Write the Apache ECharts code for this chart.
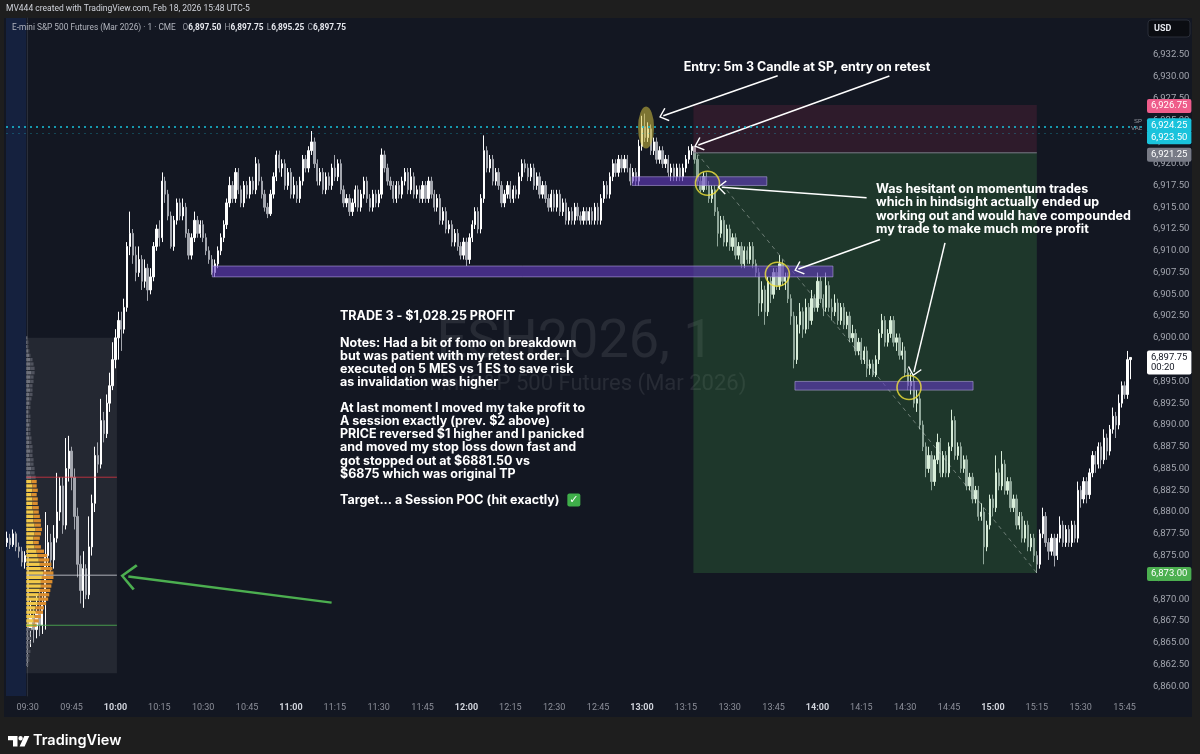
<!DOCTYPE html>
<html><head><meta charset="utf-8">
<script src="https://cdn.jsdelivr.net/npm/echarts@6/dist/echarts.min.js"></script>
<style>html,body{margin:0;padding:0;background:#1e1e1e}#c{width:1200px;height:754px}</style>
</head><body><div id="c"></div>
<script>
// ---------- DATA (ES 1-minute candles, minutes relative to 09:30) ----------
const firstMinute = -7;          // 09:23
const firstOpen = 6876.5;
const closes = [
6877,6876.25,6877.5,6876,6875.5,6874.25,6875,
6866.5,6868,6866.5,6868.5,6867,6869.5,6875,6876.5,6874.5,6877,
6880,6883,6878.5,6885,6887,6884,6879.5,6874,6871,6873.5,
6870.5,6876,6881,6886.5,6885.5,6890.5,6889,6892.5,6894.5,6897.5,
6900,6902,6901,6903.5,6910.5,6912,6909.5,6907.5,6909,6906.5,
6908,6905.5,6907,6910.5,6912.5,6911.5,6918,6916.5,6914,6910.5,
6913.5,6915.5,6914,6915,6912,6909.5,6911.5,6913.5,6912,6913,
6911.5,6910,6909,6907.5,6908.5,6910,6911.5,6913,6915.5,6917.5,
6916,6919,6917,6915.5,6917.5,6916.5,6918,6917,6920,6918,
6916.5,6915,6914.25,6916.5,6918.5,6921,6919.5,6920,6917.5,6919,
6916.5,6917.5,6916,6918,6920.5,6919.5,6921.5,6922.5,6920,6918,
6919,6917,6918.5,6917.5,6919.5,6918.5,6920,6917,6915.5,6916,
6914.5,6915.5,6917,6915,6916.5,6918,6916,6915,6916.5,6915.5,
6916.5,6921,6919.5,6918,6917.5,6916,6917.5,6916.5,6918,6919,
6917,6918.5,6916.5,6917,6916,6917.5,6916,6918,6916.5,6915,
6916,6913.5,6914.5,6912.5,6913,6911,6912,6910.5,6909.5,6911,
6909,6911.5,6913,6914.5,6912.5,6916,6921.5,6919.5,6920.5,6918,
6919,6917.5,6915.5,6916.5,6917.5,6916,6917,6916.5,6918.5,6920,
6919.5,6918.5,6919.5,6917.5,6918.5,6916.5,6917.5,6916,6915,6916.5,
6915,6916.5,6914.5,6915.5,6913.5,6914.5,6913.5,6915,6914,6913.5,
6914.5,6913.5,6914.5,6913.5,6915,6913.5,6916,6917.5,6916.5,6918.5,
6920,6919,6920.5,6919.5,6920.5,6919.5,6918,6919,6918,6922,
6924.25,6923,6924,6921.5,6922.5,6920.5,6921.5,6920,6920.5,6919,
6919.5,6918.5,6919.5,6918.5,6919.5,6920.5,6921.5,6922,6920.5,6918,
6917,6918.5,6917.5,6916,6917,6914.5,6912,6913.5,6911,6912.5,
6910.5,6911.5,6909.5,6910.5,6908.5,6910,6909,6910.5,6908.5,6907.5,
6904,6905.5,6903,6906.5,6905,6907.5,6906,6908.5,6906.5,6907,
6904.5,6902.5,6897.5,6901.5,6903,6901,6903.5,6902,6904.5,6903.5,
6906.5,6904.5,6903.5,6906,6903.5,6903,6904,6902,6903.5,6901.5,
6902.5,6900,6900.5,6898.5,6899.5,6897.5,6898.5,6896.5,6897,6895.75,
6897.5,6900.5,6902,6899.5,6900.5,6902,6899.5,6900,6898,6898.5,
6896,6894.5,6895,6892.5,6893,6890,6887.5,6885,6886.5,6883.5,
6886,6888,6884.5,6886.5,6884.5,6887.5,6890.5,6886.5,6887.5,6885,
6886,6883,6884,6881.5,6882.5,6879.5,6880,6876,6878.5,6881.5,
6880.5,6884.5,6883,6885.5,6882.5,6883.5,6880.5,6881.5,6878.5,6879.5,
6877,6878.5,6876,6877,6875,6874,6877.5,6879.5,6876.5,6875.5,
6877,6875,6877,6878.5,6876.5,6878,6876.5,6878.5,6877,6882.5,
6881.5,6883.5,6882,6884.5,6886.5,6885.5,6887.5,6886,6888.5,6887,
6889.5,6891,6890,6892.5,6894.5,6893.5,6897.5,6897.75
];
const highs = [
6877.75,6877.5,6878,6877.75,6876.5,6876,6875.5,
6876,6870,6869,6870.5,6871,6871,6880,6878.5,6877.5,6878.5,
6884.5,6884,6884,6888.5,6888.75,6887.5,6885,6880.5,6875,6875.5,
6874,6879.5,6882,6887.5,6888,6893,6891.5,6893.5,6896,6899.5,
6901,6903,6903,6904.5,6911,6914.5,6912.5,6910.5,6910.5,6909.5,
6909,6908.5,6908,6911,6913,6913.5,6919,6918.5,6917,6914.5,
6914,6916,6916,6916,6915.5,6912.5,6912,6914.5,6914,6913.5,
6913.5,6912,6910.5,6909.5,6909,6910.5,6912,6913.5,6916,6918.5,
6918,6919.5,6919.5,6917.5,6918,6918,6918.5,6918.5,6920.75,6920.5,
6918.5,6917,6915.5,6917,6919,6921.5,6921.5,6920.5,6920.5,6919.5,
6919.5,6918.5,6918,6918.5,6921,6921,6922,6923.75,6923,6920.5,
6919.5,6919.5,6919,6919,6920,6921,6920.5,6920.5,6917.5,6916.5,
6916.5,6916,6917.5,6917.5,6917,6918.5,6918.5,6916.5,6917,6917,
6917,6921.75,6921.5,6920,6918.5,6918,6918,6918,6918.5,6919.5,
6919.5,6919.5,6919,6917.5,6917.5,6918,6918,6918.5,6918.5,6917,
6916.5,6916.5,6915,6915,6913.5,6913.5,6912.5,6912.5,6911,6911.5,
6911.5,6912,6913.5,6915,6915,6916.5,6923.25,6922,6921,6921,
6919.5,6919.5,6918,6917,6918,6918,6917.5,6917.5,6919,6920.5,
6920.5,6920,6920,6920,6919,6919,6918,6918,6916.5,6917,
6917,6917,6917,6916,6916,6915,6915,6915.5,6915.5,6914.5,
6915,6915,6915,6915,6915.5,6915.5,6916.5,6918,6918,6919,
6920.5,6920.5,6921,6921,6921,6921,6920,6919.5,6919.5,6922.75,
6925.5,6925.75,6924.75,6924.5,6923,6923,6922,6922,6921,6921,
6920,6920,6920,6920,6920,6921,6922,6922.25,6922,6921,
6918.5,6919,6919,6918,6917.5,6917.5,6915,6914,6914,6913,
6913,6912,6912,6911,6911,6910.5,6910.5,6911,6911,6909,
6908,6906.5,6906,6907,6907,6908,6908,6909.5,6909,6907.5,
6907.5,6905,6903,6902.5,6904,6903.5,6904.5,6904,6905.5,6905,
6907.5,6907,6905,6907.5,6906.5,6904.5,6905,6904.5,6904,6904,
6903,6903,6901.5,6901,6900,6900,6899,6899,6897.5,6897.5,
6898,6901,6902.75,6902.5,6901,6902.5,6902.5,6900.5,6900.5,6899.5,
6899,6896.5,6896,6895.5,6894,6893.5,6890.5,6888,6887.5,6887,
6886.5,6889,6888.5,6887,6887,6888,6891.75,6891,6888,6888,
6886.5,6886.5,6884.5,6884.5,6883,6883,6881,6880.5,6879,6882,
6882,6886.5,6885,6887,6886,6884,6884,6882,6882,6880,
6880,6879,6879,6877.5,6877.5,6875.5,6878,6880.5,6880,6877,
6877.5,6877.5,6877.5,6879.5,6879,6878.5,6878.5,6879,6879,6883.5,
6883,6884,6884,6885,6887,6887,6888,6888,6889.5,6889,
6890,6892,6891.5,6893.5,6895,6895,6898.5,6897.75
];
const lows = [
6876,6875.75,6876,6875.5,6874.75,6873.75,6873.5,
6862.25,6864.5,6865,6865.5,6865.75,6866,6866.5,6873.5,6873,6873.5,
6876.5,6879,6877.5,6878,6883.5,6882.5,6878,6872.5,6869.5,6869,
6870,6870,6875,6880,6884.5,6885,6888,6888.5,6891.5,6894,
6896.5,6897.5,6898.5,6900.5,6903,6909.5,6908.5,6906.5,6907,6905.5,
6905.75,6904.25,6905,6906.5,6910,6910.5,6911,6915.5,6913.5,6910.25,
6910,6913,6913.5,6913.5,6911.5,6909,6909,6911,6911.5,6911.5,
6911,6909.5,6908.5,6907.25,6907,6908,6909.5,6911,6912.5,6915,
6915.5,6915.5,6916.5,6915,6915,6916,6916,6916.5,6916.5,6917.5,
6916,6914.5,6913.75,6914,6916,6918,6919,6918.5,6917,6917,
6916,6916,6915.5,6915.5,6917.5,6919,6919,6921,6919.5,6917.5,
6917.5,6916.5,6916.5,6917,6917,6918,6918,6916.5,6915,6915,
6914,6914,6915,6914.5,6914.5,6916,6915.5,6914.5,6914.5,6915,
6915,6916,6919,6917.5,6917,6915.5,6915.5,6916,6916,6917.5,
6916.5,6916.5,6916,6916,6915.5,6915.5,6915.5,6915.5,6916,6914.5,
6914.5,6913,6913,6912,6912,6910.5,6910.5,6910,6909,6909,
6908.25,6908.5,6911,6912.5,6912,6912,6915.5,6919,6919,6917.5,
6917.5,6917,6915,6915,6916,6915.5,6915.5,6916,6916,6918,
6919,6918,6918,6917,6917,6916,6916,6915.5,6914.5,6914.5,
6914.5,6914.5,6914,6914,6913,6913,6913,6913,6913.5,6913,
6913,6913,6913,6913,6913,6913,6913,6915.5,6916,6916,
6918,6918.5,6918.5,6919,6919,6919,6917.5,6917.75,6917.5,6917.5,
6921.5,6922.5,6922.5,6921,6921,6920,6920,6919.5,6919.5,6918.5,
6918,6918,6918,6918,6918,6919,6920,6921,6920,6917.5,
6916.75,6916.75,6917,6915.5,6915.5,6914,6910.5,6911.5,6910.5,6910.5,
6910,6910,6909,6909,6908,6908,6908.5,6908.5,6908,6907,
6902.5,6903,6901.5,6902.5,6904,6904.5,6905.5,6905.5,6906,6905.5,
6904,6901.5,6896.5,6897,6900.5,6900,6900.5,6901,6901.5,6903,
6903,6904,6902.5,6903,6903,6902,6902.5,6901.5,6901.5,6901,
6901,6899.5,6899.5,6898,6898,6897,6897,6895.5,6895.75,6895.5,
6895.5,6897,6900,6899,6899,6900,6899,6898.5,6897.5,6897.5,
6895.5,6894,6893.5,6892,6891.5,6889.5,6887,6884,6884.5,6882.5,
6883,6885.5,6884,6884,6884,6884,6887,6886,6886,6884.5,
6884.5,6882.5,6882.5,6881,6881,6879,6879,6874,6875.5,6878,
6879.5,6880,6882.5,6882.5,6882,6882,6880,6880,6878,6878,
6876.5,6876.5,6875.5,6875.5,6874.25,6873,6873.5,6877,6876,6874.5,
6875,6873.75,6874.5,6876.5,6876,6876,6876,6876,6876.5,6876.5,
6880.5,6881,6881,6881.5,6884,6884.5,6885,6885,6885.5,6886,
6886.5,6889,6888.5,6889.5,6892,6893,6893,6895.25
];
if (closes.length !== highs.length || closes.length !== lows.length)
  throw new Error('length mismatch ' + closes.length + ' ' + highs.length + ' ' + lows.length);

// axis tick labels
const timeTickLabels = ['09:30','09:45','10:00','10:15','10:30','10:45','11:00','11:15','11:30','11:45','12:00','12:15','12:30','12:45','13:00','13:15','13:30','13:45','14:00','14:15','14:30','14:45','15:00','15:15','15:30','15:45'];
const priceTicks = [6860,6862.5,6865,6867.5,6870,6872.5,6875,6877.5,6880,6882.5,6885,6887.5,6890,6892.5,6895,6897.5,6900,6902.5,6905,6907.5,6910,6912.5,6915,6917.5,6920,6922.5,6925,6927.5,6930,6932.5];

// session volume profile (09:30-10:00)
const profileLevels = [6862.5,6863,6863.5,6864,6864.5,6865,6865.5,6866,6866.5,
6867,6867.5,6868,6868.5,6869,6869.5,6870,6870.5,6871,6871.5,6872,6872.5,6873,6873.5,6874,6874.5,6875,6875.5,6876,6876.5,6877,6877.5,6878,6878.5,6879,6879.5,6880,6880.5,6881,6881.5,6882,6882.5,6883,6883.5,
6884,6884.5,6885,6885.5,6886,6886.5,6887,6887.5,6888,6888.5,6889,6889.5,6890,6890.5,6891,6891.5,6892,6892.5,6893,6893.5,6894,6894.5,6895,6895.5,6896,6896.5,6897,6897.5,6898,6898.5,6899,6899.5,6900];
const profileUp = [1,2,1,2,2,2,3,2,2,
6,7,8,9,9,11,12,12,13,14,14,15,16,14,13,12,11,10,8,7,7,8,9,8,7,7,7,6,6,6,5,6,6,5,
5,4,5,4,4,3,4,3,3,3,2,2,3,2,2,2,2,3,3,3,4,3,4,4,5,4,4,4,3,2,1,1,1];
const profileDown = [1,1,2,2,1,2,2,2,3,
4,5,6,7,8,8,9,10,10,10,11,11,10,11,11,10,9,7,6,5,6,6,6,6,7,6,5,6,5,5,5,5,4,5,
4,4,3,3,3,3,2,3,2,2,2,2,1,2,2,1,2,1,2,3,2,3,3,3,3,4,3,2,1,1,1,1,0];
const profileBox = [-0.5, 30.5, 6861.5, 6900];   // minutes from, to, price low, high
const valueArea = [6867, 6884];
const pocPrice = 6872.75;

// drawings
const zones = [[63.1, 275.3, 6907, 6908.25], [206.6, 252.7, 6917.5, 6918.5], [262.3, 323.2, 6894, 6895]];
const positionTool = [[227.6, 345, 6921.25, 6926.75, 6873, 228.7]]; // from, to, entry, stop, target, entry bar
const spPrice = 6924.25, valPrice = 6923.5, lastPrice = 6897.75, countdown = '00:20';
const circles = [[232.4, 6917.75], [256.3, 6907.3], [301.3, 6894.3]];
const highlight = [[211.4, 6924.15]];
const whiteArrows = [[256.4, 6930.1, 217.3, 6925.5], [294.6, 6930.07, 229.3, 6922.15], [286.8, 6916.1, 237.3, 6917.3], [291.4, 6911.3, 263.5, 6907.9], [313.6, 6910.9, 303.0, 6896.1]];
const greenArrows = [[103.9, 6869.6, 34.4, 6872.6]];

// ---------- LAYOUT ----------
const xMin = -7.42, xMax = 381.64, yMin = 6858.877, yMax = 6936.729;

const toMin = s => { const [h, m] = s.split(':').map(Number); return h * 60 + m - 570; };
const minToStr = v => { const t = Math.round(v) + 570; return String(Math.floor(t / 60)).padStart(2, '0') + ':' + String(t % 60).padStart(2, '0'); };
const fmtP = v => v.toLocaleString('en-US', { minimumFractionDigits: 2, maximumFractionDigits: 2 });

const candles = closes.map((c, i) => {
  const o = i === 0 ? firstOpen : closes[i - 1];
  return [firstMinute + i, o, c, Math.min(lows[i], o, c), Math.max(highs[i], o, c)];
});
const maxVol = Math.max(...profileUp.map((u, i) => u + profileDown[i]));

const chevron = 'path://M0,0L10,9L8.8,10.3L0,2.3L-8.8,10.3L-10,9Z';
const rectOf = (a, b) => ({ x: Math.min(a[0], b[0]), y: Math.min(a[1], b[1]), width: Math.abs(b[0] - a[0]), height: Math.abs(b[1] - a[1]) });
const hidden = { color: 'rgba(0,0,0,0)', width: 0 };

const priceLabel = (val, bg, fg, offY) => ({
  yAxis: val, lineStyle: hidden,
  label: { show: true, position: 'end', distance: 3, formatter: fmtP(val), backgroundColor: bg, color: fg, padding: [2, 4, 2, 4], borderRadius: 2, fontSize: 9.5, fontFamily: 'Roboto', offset: [0, offY || 0] }
});

const chart = echarts.init(document.getElementById('c'));
const option = {
  backgroundColor: '#1e1e1e',
  animation: false,
  grid: { left: 6, right: 56, top: 18, bottom: 58, containLabel: false, outerBoundsMode: 'none' },
  xAxis: {
    type: 'value', min: xMin, max: xMax,
    axisLine: { show: false }, axisTick: { show: false }, splitLine: { show: false },
    axisLabel: {
      customValues: timeTickLabels.map(toMin), margin: 7, fontSize: 9, fontFamily: 'Roboto', color: '#8d909a',
      formatter: v => { const s = minToStr(v); return s.endsWith(':00') ? '{b|' + s + '}' : s; },
      rich: { b: { fontWeight: 'bold', color: '#d1d4dc', fontSize: 9, fontFamily: 'Roboto' } }
    }
  },
  yAxis: {
    type: 'value', position: 'right', min: yMin, max: yMax,
    axisLine: { show: true, lineStyle: { color: '#2a2e39' } }, axisTick: { show: false }, splitLine: { show: false },
    axisLabel: { customValues: priceTicks, margin: 9, fontSize: 9.5, fontFamily: 'Roboto', color: '#a3a6af', formatter: v => fmtP(v) }
  },
  series: [
    { // session shading + profile box
      type: 'custom', z: 1, silent: true,
      data: [[xMin, profileBox[0], yMin, yMax, 0], [profileBox[0], profileBox[1], profileBox[2], profileBox[3], 1]],
      encode: { x: [0, 1], y: [2, 3] },
      renderItem: (p, api) => {
        const a = api.coord([api.value(0), api.value(3)]), b = api.coord([api.value(1), api.value(2)]);
        const fill = api.value(4) === 0 ? 'rgba(41,98,255,0.13)' : 'rgba(255,255,255,0.075)';
        return { type: 'rect', shape: rectOf(a, b), style: { fill } };
      }
    },
    {
      type: 'candlestick', z: 2, data: candles, barWidth: 1.8, silent: true,
      encode: { x: 0, y: [1, 2, 3, 4] },
      itemStyle: { color: '#ffffff', color0: '#a3a6ae', borderColor: '#ffffff', borderColor0: '#a3a6ae', borderWidth: 1 },
      emphasis: { disabled: true }
    },
    { // volume profile rows
      type: 'custom', z: 3, silent: true,
      data: profileLevels.map((pr, i) => [pr, profileUp[i], profileDown[i]]),
      encode: { y: 0 },
      renderItem: (p, api) => {
        const pr = api.value(0), up = api.value(1), dn = api.value(2);
        const inVA = pr >= valueArea[0] && pr < valueArea[1];
        const k = (profileBox[1] - profileBox[0]) * 0.3 / maxVol;
        const x0 = profileBox[0];
        const tl = api.coord([x0, pr + 0.19]), m = api.coord([x0 + up * k, pr - 0.19]), r = api.coord([x0 + (up + dn) * k, pr - 0.19]);
        return { type: 'group', children: [
          { type: 'rect', shape: rectOf(tl, m), style: { fill: inVA ? '#f2c94a' : '#6e717c' } },
          { type: 'rect', shape: rectOf([m[0], tl[1]], r), style: { fill: inVA ? '#dc8e2e' : '#4f525d' } }
        ] };
      }
    },
    { // VAH / POC / VAL lines
      type: 'custom', z: 3, silent: true,
      data: [[valueArea[1], 0], [pocPrice, 1], [valueArea[0], 2]],
      encode: { y: 0 },
      renderItem: (p, api) => {
        const a = api.coord([profileBox[0], api.value(0)]), b = api.coord([profileBox[1], api.value(0)]);
        const col = ['rgba(242,54,69,0.7)', 'rgba(220,222,230,0.75)', 'rgba(76,175,80,0.85)'][api.value(1)];
        return { type: 'line', shape: { x1: a[0], y1: a[1], x2: b[0], y2: b[1] }, style: { stroke: col, lineWidth: 1 } };
      }
    },
    { // short position tool
      type: 'custom', z: 3, silent: true, data: positionTool,
      encode: { x: [0, 1], y: [3, 4] },
      renderItem: (p, api) => {
        const x0 = api.value(0), x1 = api.value(1), en = api.value(2), st = api.value(3), tg = api.value(4), eb = api.value(5);
        const a = api.coord([x0, st]), b = api.coord([x1, en]), c = api.coord([x0, en]), d = api.coord([x1, tg]);
        const e1 = api.coord([eb, en]);
        return { type: 'group', children: [
          { type: 'rect', shape: rectOf(a, b), style: { fill: 'rgba(229,57,110,0.13)' } },
          { type: 'rect', shape: rectOf(c, d), style: { fill: 'rgba(76,175,80,0.21)' } },
          { type: 'line', shape: { x1: c[0], y1: c[1], x2: b[0], y2: b[1] }, style: { stroke: '#787b86', lineWidth: 1 } },
          { type: 'line', shape: { x1: e1[0], y1: e1[1], x2: d[0], y2: d[1] }, style: { stroke: 'rgba(255,255,255,0.35)', lineWidth: 1, lineDash: [4, 4] } }
        ] };
      }
    },
    { // purple zones
      type: 'custom', z: 3, silent: true, data: zones,
      encode: { x: [0, 1], y: [2, 3] },
      renderItem: (p, api) => {
        const a = api.coord([api.value(0), api.value(3)]), b = api.coord([api.value(1), api.value(2)]);
        return { type: 'rect', shape: rectOf(a, b), style: { fill: 'rgba(98,60,190,0.62)', stroke: 'rgba(186,170,230,0.55)', lineWidth: 1 } };
      }
    },
    { // yellow circles + white arrows
      type: 'scatter', z: 4, silent: true, clip: false, data: circles, symbol: 'circle', symbolSize: [24, 24],
      itemStyle: { color: 'rgba(0,0,0,0)', borderColor: '#f2e33a', borderWidth: 1.6 },
      markLine: {
        silent: true, animation: false, symbol: ['none', chevron], symbolSize: [14, 9],
        label: { show: false }, emphasis: { disabled: true },
        lineStyle: { color: '#ffffff', width: 1.5, type: 'solid' },
        data: whiteArrows.map(a => [{ coord: [a[0], a[1]] }, { coord: [a[2], a[3]] }])
      }
    },
    { // highlighted candle ellipse + green arrow
      type: 'scatter', z: 4, silent: true, clip: false, data: highlight, symbol: 'circle', symbolSize: [16, 42],
      itemStyle: { color: 'rgba(214,196,64,0.68)' },
      markLine: {
        silent: true, animation: false, symbol: ['none', chevron], symbolSize: [26, 16],
        label: { show: false }, emphasis: { disabled: true },
        lineStyle: { color: '#4caf50', width: 2.5, type: 'solid' },
        data: greenArrows.map(a => [{ coord: [a[0], a[1]] }, { coord: [a[2], a[3]] }])
      }
    },
    { // SP / VAL lines
      type: 'line', z: 5, silent: true, clip: false, data: [[positionTool[0][1], lastPrice]], symbol: 'none', lineStyle: { opacity: 0 },
      markLine: {
        silent: true, animation: false, symbol: ['none', 'none'], emphasis: { disabled: true },
        data: [
          { yAxis: spPrice, lineStyle: { color: '#19c3dc', type: [2, 4], width: 1.6 }, label: { show: true, position: 'insideEndTop', formatter: 'SP', fontSize: 6, color: '#9598a1', distance: 2 } },
          { yAxis: valPrice, lineStyle: { color: 'rgba(25,195,220,0.28)', type: [2, 4], width: 1 }, label: { show: true, position: 'insideEndTop', formatter: 'VAL', fontSize: 6, color: '#9598a1', distance: 2 } }
        ]
      }
    },
    { // price-axis labels
      type: 'line', z: 6, silent: true, clip: false, data: [[positionTool[0][1], lastPrice]], symbol: 'none', lineStyle: { opacity: 0 },
      markLine: {
        silent: true, animation: false, symbol: ['none', 'none'], emphasis: { disabled: true },
        data: [
          priceLabel(positionTool[0][3], '#ef5d8b', '#ffffff', 1),
          priceLabel(spPrice, '#19c3dc', '#ffffff', -1.5),
          priceLabel(valPrice, '#19c3dc', '#ffffff', 4),
          priceLabel(positionTool[0][2], '#787b86', '#ffffff', 2),
          priceLabel(positionTool[0][4], '#4caf50', '#ffffff', 1),
          { yAxis: lastPrice, lineStyle: hidden,
            label: { show: true, position: 'end', distance: 3, formatter: fmtP(lastPrice) + '\n' + countdown, backgroundColor: '#ffffff', color: '#131722', padding: [2, 4, 2, 4], borderRadius: 2, fontSize: 9.5, lineHeight: 10, fontFamily: 'Roboto', offset: [0, 5] } }
        ]
      }
    }
  ],
  graphic: [
    { type: 'rect', z: -10, silent: true, shape: { x: 4, y: 18, width: 1188, height: 699 }, style: { fill: '#131722' } },
    { type: 'text', z: -5, silent: true, x: 575, y: 343, style: { text: 'ESH2026, 1', fontSize: 54, fontFamily: 'Roboto', fill: 'rgba(255,255,255,0.085)', align: 'center', verticalAlign: 'middle' } },
    { type: 'text', z: -5, silent: true, x: 575, y: 384, style: { text: 'E-mini S&P 500 Futures (Mar 2026)', fontSize: 22, fontFamily: 'Roboto', fill: 'rgba(255,255,255,0.085)', align: 'center', verticalAlign: 'middle' } },
    { type: 'text', z: 50, silent: true, x: 6, y: 9, style: { text: 'MV444 created with TradingView.com, Feb 18, 2026 15:48 UTC-5', fontSize: 8.5, fontFamily: 'Roboto', fill: '#d1d4dc', verticalAlign: 'middle' } },
    { type: 'text', z: 50, silent: true, x: 12, y: 27.5, style: {
      text: '{n|E-mini S&P 500 Futures (Mar 2026) · 1 · CME}  {l|O}{v|' + fmtP(6897.5) + '} {l|H}{v|' + fmtP(6897.75) + '} {l|L}{v|' + fmtP(6895.25) + '} {l|C}{v|' + fmtP(lastPrice) + '}',
      verticalAlign: 'middle',
      rich: { n: { fontSize: 8.3, fontFamily: 'Roboto', fill: '#b2b5be' }, l: { fontSize: 8.3, fontFamily: 'Roboto', fill: '#9598a1' }, v: { fontSize: 8.3, fontFamily: 'Roboto', fontWeight: 'bold', fill: '#e6e8ee' } } } },
    { type: 'rect', z: 50, silent: true, shape: { x: 1148, y: 20, width: 42, height: 17, r: 3 }, style: { fill: '#0b0d12', stroke: '#2a2e39' } },
    { type: 'text', z: 51, silent: true, x: 1154, y: 28.5, style: { text: 'USD', fontSize: 9, fontWeight: 'bold', fontFamily: 'Roboto', fill: '#e6e8ee', verticalAlign: 'middle' } },
    { type: 'text', z: 50, silent: true, x: 807, y: 67, style: { text: 'Entry: 5m 3 Candle at SP, entry on retest', fontSize: 12.5, fontWeight: 'bold', fontFamily: 'Inter', fill: '#ffffff', align: 'center', verticalAlign: 'middle' } },
    { type: 'text', z: 50, silent: true, x: 876, y: 182.6, style: { text: 'Was hesitant on momentum trades\nwhich in hindsight actually ended up\nworking out and would have compounded\nmy trade to make much more profit', fontSize: 12.5, lineHeight: 13.3, fontWeight: 'bold', fontFamily: 'Inter', fill: '#ffffff', verticalAlign: 'top' } },
    { type: 'text', z: 50, silent: true, x: 340, y: 310.1, style: {
      text: 'TRADE 3 - $1,028.25 PROFIT\n\nNotes: Had a bit of fomo on breakdown\nbut was patient with my retest order. I\nexecuted on 5 MES vs 1 ES to save risk\nas invalidation was higher\n\nAt last moment I moved my take profit to\nA session exactly (prev. $2 above)\nPRICE reversed $1 higher and I panicked\nand moved my stop loss down fast and\ngot stopped out at $6881.50 vs\n$6875 which was original TP\n\nTarget... a Session POC (hit exactly) {ck|✓}',
      fontSize: 12.5, lineHeight: 13.1, fontWeight: 'bold', fontFamily: 'Inter', fill: '#ffffff', verticalAlign: 'top',
      rich: { ck: { fontSize: 11, fontWeight: 'bold', fontFamily: 'DejaVu Sans', fill: '#ffffff', backgroundColor: '#3fae4a', borderRadius: 2, width: 13, height: 13, align: 'center', lineHeight: 13.1 } } } },
    // footer logo
    { type: 'polygon', z: 50, silent: true, shape: { points: [[8, 736], [17.5, 736], [17.5, 746.5], [13, 746.5], [13, 740.3], [8, 740.3]] }, style: { fill: '#ffffff' } },
    { type: 'circle', z: 50, silent: true, shape: { cx: 20.6, cy: 738.3, r: 2.2 }, style: { fill: '#ffffff' } },
    { type: 'polygon', z: 50, silent: true, shape: { points: [[24.3, 736], [29.3, 736], [24.6, 746.5], [19.6, 746.5]] }, style: { fill: '#ffffff' } },
    { type: 'text', z: 50, silent: true, x: 33, y: 741, style: { text: 'TradingView', fontSize: 14.5, fontWeight: 600, fontFamily: 'Inter', fill: '#ffffff', verticalAlign: 'middle' } }
  ]
};
chart.setOption(option);
</script>
</body></html>
